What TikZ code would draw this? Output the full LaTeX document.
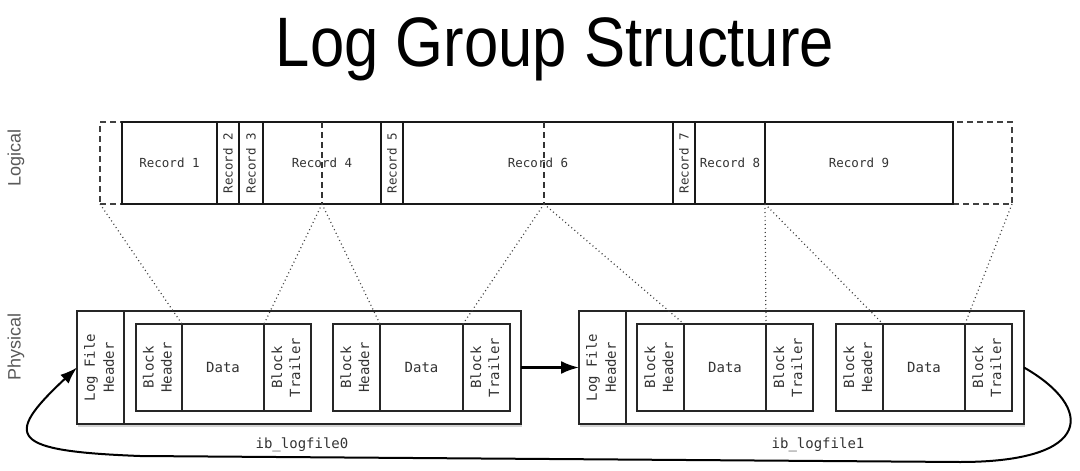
\documentclass[tikz,border=0pt]{standalone}
\usepackage{fontspec}
\setmainfont{Liberation Sans}
\newfontfamily\titlefont[FakeStretch=0.88]{Liberation Sans}
\newfontfamily\monofont{DejaVu Sans Mono}
\usetikzlibrary{arrows.meta,shadows}

% two stacked words turned to read upwards
\newcommand{\vtext}[1]{\rotatebox{90}{\begin{tabular}{@{}c@{}}#1\end{tabular}}}

\begin{document}
\begin{tikzpicture}[
  x=1pt, y=-1pt,
  every node/.style={outer sep=0pt, inner sep=0pt},
  title/.style={anchor=base, font=\titlefont\fontsize{70}{84}\selectfont},
  sidelabel/.style={rotate=90, text=black!65, font=\fontsize{18}{22}\selectfont},
  record/.style={draw=black!90, line width=2.6pt, fill=white, minimum height=82pt,
    text=black!80, font=\monofont\fontsize{12.5}{15}\selectfont},
  partial/.style={draw=black!75, line width=1.4pt, dash pattern=on 6pt off 4pt,
    minimum height=82pt},
  filebox/.style={draw=black!85, line width=1.8pt, fill=white, minimum height=113pt,
    drop shadow={shadow xshift=1pt, shadow yshift=-2.5pt, opacity=0.35}},
  hdrbox/.style={draw=black!85, line width=1.8pt, minimum height=113pt, text=black!80,
    font=\monofont\fontsize{14}{19}\selectfont},
  block/.style={draw=black!85, line width=1.5pt, minimum height=87pt, text=black!80,
    font=\monofont\fontsize{14}{18}\selectfont},
  filename/.style={text=black!80, font=\monofont\fontsize{14}{17}\selectfont},
  cutline/.style={black!80, line width=1.4pt, dash pattern=on 6pt off 4pt},
  mapline/.style={black!75, line width=1.2pt, dash pattern=on 1pt off 3pt},
  nextflow/.style={line width=2.4pt, -{Latex[length=18pt,width=13pt]}},
  loopflow/.style={line width=2pt, -{Latex[length=17pt,width=12pt]}}
]
\useasboundingbox (0,0) rectangle (1080,471);

\node[title] (title) at (555,66) {Log Group Structure};
\node[sidelabel] (logical) at (16,158) {Logical};
\node[sidelabel] (physical) at (16,347) {Physical};

% logical view: the records, with parts of neighbours dashed
\node[partial, minimum width=22pt] (lpre) at (111,163) {};
\node[partial, minimum width=59pt] (lpost) at (982.5,163) {};
\node[record, minimum width=95pt] (rec1) at (169.5,163) {Record 1};
\node[record, minimum width=22pt] (rec2) at (228,163) {\rotatebox{90}{Record 2}};
\node[record, minimum width=24pt] (rec3) at (251,163) {\rotatebox{90}{Record 3}};
\node[record, minimum width=118pt] (rec4) at (322,163) {Record 4};
\node[record, minimum width=22pt] (rec5) at (392,163) {\rotatebox{90}{Record 5}};
\node[record, minimum width=270pt] (rec6) at (538,163) {Record 6};
\node[record, minimum width=22pt] (rec7) at (684,163) {\rotatebox{90}{Record 7}};
\node[record, minimum width=70pt] (rec8) at (730,163) {Record 8};
\node[record, minimum width=188pt] (rec9) at (859,163) {Record 9};
\coordinate (cut4top) at (322,122);
\coordinate (cut4) at (322,204);
\coordinate (cut6top) at (544,122);
\coordinate (cut6) at (544,204);
\draw[cutline] (cut4top) -- (cut4);
\draw[cutline] (cut6top) -- (cut6);

% physical view: two log files of two blocks each
\node[filebox, minimum width=444pt] (file0) at (299,367.5) {};
\node[hdrbox, minimum width=47pt] (f0hdr) at (100.5,367.5) {\vtext{Log File\\Header}};
\node[block, minimum width=46pt] (f0b1h) at (159,367.5) {\vtext{Block\\Header}};
\node[block, minimum width=82pt] (f0b1d) at (223,367.5) {Data};
\node[block, minimum width=47pt] (f0b1t) at (287.5,367.5) {\vtext{Block\\Trailer}};
\node[block, minimum width=47pt] (f0b2h) at (356.5,367.5) {\vtext{Block\\Header}};
\node[block, minimum width=83pt] (f0b2d) at (421.5,367.5) {Data};
\node[block, minimum width=47pt] (f0b2t) at (486.5,367.5) {\vtext{Block\\Trailer}};
\node[filename] (name0) at (302,445) {\detokenize{ib_logfile0}};

\node[filebox, minimum width=445pt] (file1) at (801.5,367.5) {};
\node[hdrbox, minimum width=47pt] (f1hdr) at (602.5,367.5) {\vtext{Log File\\Header}};
\node[block, minimum width=47pt] (f1b1h) at (660.5,367.5) {\vtext{Block\\Header}};
\node[block, minimum width=82pt] (f1b1d) at (725,367.5) {Data};
\node[block, minimum width=47pt] (f1b1t) at (789.5,367.5) {\vtext{Block\\Trailer}};
\node[block, minimum width=47pt] (f1b2h) at (859.5,367.5) {\vtext{Block\\Header}};
\node[block, minimum width=82pt] (f1b2d) at (924,367.5) {Data};
\node[block, minimum width=47pt] (f1b2t) at (988.5,367.5) {\vtext{Block\\Trailer}};
\node[filename] (name1) at (818,445) {\detokenize{ib_logfile1}};

% where the records fall in the blocks
\draw[mapline] (lpre.south west) -- (f0b1h.north east);
\draw[mapline] (cut4) -- (f0b1t.north west);
\draw[mapline] (cut4) -- (f0b2h.north east);
\draw[mapline] (cut6) -- (f0b2t.north west);
\draw[mapline] (cut6) -- (f1b1h.north east);
\draw[mapline] (rec9.south west) -- (f1b1t.north west);
\draw[mapline] (rec9.south west) -- (f1b2h.north east);
\draw[mapline] (lpost.south east) -- (f1b2t.north west);

\draw[nextflow] (file0.east) -- (file1.west);
\coordinate (loopR) at (960,462);
\coordinate (loopL) at (140,456);
\draw[loopflow] (file1.east) .. controls +(70,40) and +(135,0) .. (loopR)
  -- (loopL) .. controls +(-130,-5) and +(-75,70) .. (file0.west);
\end{tikzpicture}
\end{document}
